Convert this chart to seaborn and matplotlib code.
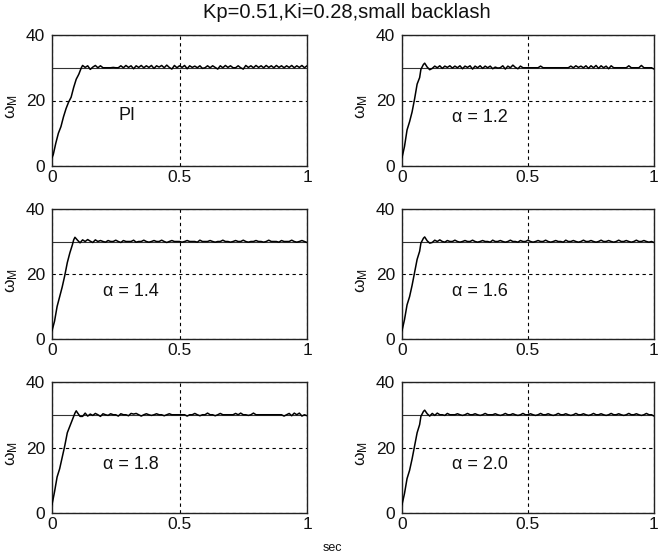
import numpy as np
import pandas as pd
import matplotlib
matplotlib.use("Agg")
import matplotlib.pyplot as plt
import seaborn as sns

# ---------------- data ----------------
title = "Kp=0.51,Ki=0.28,small backlash"
labels = ["PI", "α = 1.2", "α = 1.4", "α = 1.6", "α = 1.8", "α = 2.0"]
reference = 30
x_ticks = [0, 0.5, 1]
x_tick_labels = ["0", "0.5", "1"]
y_ticks = [0, 20, 40]
y_tick_labels = ["0", "20", "40"]

# rise portion (time, speed)
pi_rise_t = [0, 0.005, 0.015, 0.025, 0.035, 0.045, 0.055, 0.065, 0.075, 0.085, 0.095, 0.105, 0.115]
pi_rise_y = [2.5, 3.5, 7.0, 10.0, 12.0, 15.0, 17.5, 19.5, 21.0, 24.0, 26.5, 28.0, 30.0]

a12_rise_t = [0, 0.01, 0.02, 0.03, 0.04, 0.05, 0.06, 0.07, 0.075, 0.085, 0.09, 0.1, 0.11]
a12_rise_y = [2.5, 6.0, 11.0, 13.5, 16.5, 20.5, 25.0, 27.0, 29.5, 31.0, 31.4, 30.2, 29.4]
a14_rise_t = [0, 0.01, 0.02, 0.03, 0.04, 0.05, 0.06, 0.07, 0.08, 0.085, 0.09, 0.1, 0.11]
a14_rise_y = [2.5, 5.5, 10.0, 13.0, 16.0, 19.5, 23.5, 26.5, 29.0, 30.5, 31.3, 30.4, 29.6]
a16_rise_t = [0, 0.01, 0.02, 0.03, 0.04, 0.05, 0.06, 0.07, 0.075, 0.085, 0.09, 0.1, 0.11]
a16_rise_y = [2.5, 6.0, 10.5, 13.0, 16.5, 20.5, 24.5, 27.0, 29.5, 31.0, 31.4, 30.2, 29.5]
a18_rise_t = [0, 0.01, 0.02, 0.03, 0.04, 0.05, 0.06, 0.07, 0.08, 0.09, 0.095, 0.1, 0.11]
a18_rise_y = [2.5, 6.5, 11.0, 13.5, 17.0, 20.5, 24.5, 26.5, 28.5, 30.5, 31.2, 30.6, 29.5]
a20_rise_t = [0, 0.01, 0.02, 0.03, 0.04, 0.05, 0.06, 0.07, 0.075, 0.085, 0.09, 0.1, 0.11]
a20_rise_y = [2.5, 6.0, 10.5, 13.0, 16.5, 20.5, 24.5, 27.0, 29.5, 31.0, 31.4, 30.3, 29.6]

# steady portion (from t=0.12 to t=1.0)
pi_steady = [30.7, 30.1, 30.6, 29.5, 30.2, 30.7, 30.0, 30.6, 30.0, 30.0,
             30.0, 30.0, 30.1, 30.0, 30.0, 30.6, 30.0, 30.7, 30.1, 30.6,
             29.7, 30.6, 30.1, 30.7, 30.0, 30.6, 30.1, 30.7, 29.8, 30.6,
             30.2, 30.7, 30.0, 30.8, 30.1, 29.6, 30.7, 30.0, 30.6, 30.1,
             30.7, 29.7, 30.6, 30.1, 30.5, 30.0, 30.6, 29.8, 30.0, 30.6,
             30.0, 30.6, 30.1, 29.6, 30.6, 30.0, 30.7, 30.1, 30.6, 30.0,
             30.0, 30.6, 30.0, 29.6, 30.7, 30.1, 30.6, 30.0, 30.7, 30.1,
             30.6, 30.0, 30.7, 30.1, 30.6, 30.0, 30.7, 30.1, 30.6, 30.0,
             30.6, 30.1, 30.7, 30.0, 30.6, 30.1, 30.7, 30.0, 30.6]
a12_steady = [29.8, 30.5, 30.0, 30.6, 29.8, 30.5, 30.1, 30.6, 29.9, 30.5,
              30.0, 30.6, 29.7, 30.5, 30.1, 30.6, 29.6, 30.5, 30.0, 30.6,
              29.8, 30.5, 30.0, 30.5, 29.7, 30.2, 29.9, 30.0, 30.6, 29.6,
              30.5, 30.0, 30.8, 30.1, 29.7, 30.5, 30.0, 30.0, 30.0, 30.0,
              30.0, 30.0, 30.0, 30.5, 30.0, 30.0, 30.0, 30.0, 30.0, 30.0,
              30.0, 30.0, 30.0, 30.0, 30.0, 30.5, 30.0, 30.6, 30.1, 30.5,
              30.0, 30.6, 29.8, 30.6, 30.0, 30.7, 29.8, 30.6, 30.0, 30.5,
              29.7, 30.6, 30.0, 30.0, 30.0, 30.0, 30.0, 30.0, 30.6, 30.0,
              30.0, 30.0, 30.0, 30.7, 30.0, 30.0, 30.0, 30.0, 29.6]
a14_steady = [30.5, 30.0, 30.6, 30.1, 29.7, 30.5, 30.0, 30.3, 30.0, 29.8,
              30.3, 30.0, 30.0, 30.4, 30.0, 29.7, 30.3, 30.0, 30.0, 30.0,
              30.4, 29.8, 30.0, 30.0, 30.4, 30.0, 29.8, 30.0, 30.3, 30.0,
              30.0, 30.4, 30.0, 29.7, 30.0, 30.3, 30.0, 30.0, 30.0, 29.8,
              30.0, 30.3, 30.0, 30.0, 30.0, 29.8, 30.4, 30.0, 30.0, 30.0,
              30.3, 30.0, 29.8, 30.0, 30.0, 30.4, 30.0, 30.0, 29.8, 30.0,
              30.3, 30.0, 30.0, 30.4, 30.0, 29.8, 30.0, 30.0, 30.3, 30.0,
              30.0, 29.8, 30.0, 30.4, 30.0, 30.0, 30.0, 29.8, 30.3, 30.0,
              30.0, 30.0, 30.4, 30.0, 29.8, 30.0, 30.3, 30.0, 29.7]
a16_steady = [29.7, 30.4, 30.0, 30.5, 30.0, 29.8, 30.3, 30.0, 30.0, 30.4,
              30.0, 29.8, 30.0, 30.3, 30.0, 30.0, 30.4, 30.0, 29.8, 30.0,
              30.3, 30.0, 30.0, 29.8, 30.4, 30.0, 30.0, 30.3, 30.0, 29.8,
              30.0, 30.4, 30.0, 30.0, 29.8, 30.3, 30.0, 30.0, 30.4, 30.0,
              29.8, 30.0, 30.3, 30.0, 30.0, 30.4, 30.0, 29.8, 30.0, 30.3,
              30.0, 30.0, 29.8, 30.4, 30.0, 30.0, 30.3, 30.0, 29.8, 30.0,
              30.4, 30.0, 30.0, 30.3, 30.0, 29.8, 30.0, 30.4, 30.0, 30.0,
              30.3, 30.0, 29.8, 30.0, 30.4, 30.0, 30.0, 30.3, 30.0, 29.8,
              30.0, 30.4, 30.0, 30.0, 30.3, 30.0, 29.8, 30.0, 29.7]
a18_steady = [29.5, 30.5, 29.6, 30.2, 29.8, 30.4, 30.0, 29.5, 30.3, 30.0,
              29.8, 30.3, 30.0, 30.0, 29.6, 30.3, 30.0, 30.0, 29.7, 30.4,
              30.2, 30.4, 30.0, 29.6, 30.0, 30.3, 30.0, 29.8, 30.0, 30.3,
              30.0, 30.0, 29.7, 30.0, 30.3, 30.0, 30.0, 30.0, 30.0, 30.0,
              30.0, 29.6, 30.0, 30.0, 30.4, 30.0, 29.7, 30.0, 30.0, 30.5,
              30.0, 30.0, 29.7, 30.0, 30.4, 30.0, 30.0, 30.0, 30.0, 30.0,
              30.4, 30.0, 30.5, 30.0, 30.0, 29.8, 30.0, 30.5, 30.0, 30.0,
              30.0, 30.0, 30.0, 30.0, 30.0, 30.0, 30.0, 30.0, 30.0, 29.6,
              30.0, 30.4, 29.7, 30.5, 30.0, 30.5, 29.6, 30.0, 29.7]
a20_steady = [30.4, 29.8, 30.5, 30.0, 30.0, 29.8, 30.4, 30.0, 30.0, 30.0,
              30.3, 30.0, 29.8, 30.0, 30.4, 30.0, 30.0, 30.3, 30.0, 29.8,
              30.0, 30.4, 30.0, 30.0, 30.0, 30.3, 30.0, 29.8, 30.0, 30.4,
              30.0, 30.0, 30.3, 30.0, 29.8, 30.0, 30.4, 30.0, 30.0, 30.3,
              30.0, 29.8, 30.0, 30.4, 30.0, 30.0, 30.3, 30.0, 29.8, 30.0,
              30.4, 30.0, 30.0, 30.3, 30.0, 29.8, 30.0, 30.4, 30.0, 30.0,
              30.3, 30.0, 29.8, 30.0, 30.4, 30.0, 30.0, 30.3, 30.0, 29.8,
              30.0, 30.4, 30.0, 30.0, 30.3, 30.0, 29.8, 30.0, 30.4, 30.0,
              30.0, 30.3, 30.0, 29.8, 30.0, 30.4, 30.0, 30.0, 29.6]

rises = [(pi_rise_t, pi_rise_y), (a12_rise_t, a12_rise_y), (a14_rise_t, a14_rise_y),
         (a16_rise_t, a16_rise_y), (a18_rise_t, a18_rise_y), (a20_rise_t, a20_rise_y)]
steadies = [pi_steady, a12_steady, a14_steady, a16_steady, a18_steady, a20_steady]

# ---------------- style ----------------
sns.set_theme(style="white")
plt.rcParams['font.family'] = ['Liberation Sans', 'DejaVu Sans']
plt.rcParams['mathtext.fontset'] = 'custom'
plt.rcParams['mathtext.rm'] = 'Liberation Sans'

W, H = 659, 558
fig = plt.figure(figsize=(W / 100, H / 100), dpi=100)
fig.patch.set_facecolor('white')

col_px = [(52, 307), (402, 654)]
row_px = [(35, 166), (209, 339), (382, 513)]

for i in range(6):
    r, c = divmod(i, 2)
    x0, x1 = col_px[c]
    y0, y1 = row_px[r]
    ax = fig.add_axes([x0 / W, 1 - y1 / H, (x1 - x0) / W, (y1 - y0) / H])
    ax.set_facecolor('white')

    rt, ry = rises[i]
    st = np.linspace(0.12, 1.0, len(steadies[i]))
    t = np.concatenate([rt, st])
    y = np.concatenate([ry, steadies[i]])
    df = pd.DataFrame({"t": t, "w": y})

    # reference line
    ax.axhline(reference, color='#333333', lw=0.8, zorder=2)
    sns.lineplot(data=df, x="t", y="w", ax=ax, color='black', lw=1.1,
                 estimator=None, sort=False, zorder=3)

    ax.set_xlim(0, 1)
    ax.set_ylim(0, 40)
    ax.set_xticks(x_ticks)
    ax.set_xticklabels(x_tick_labels)
    ax.set_yticks(y_ticks)
    ax.set_yticklabels(y_tick_labels)
    ax.tick_params(direction='in', length=3, width=0.8, color='black',
                   labelsize=12.5, labelcolor='#111111')
    ax.tick_params(axis='x', pad=3)
    ax.tick_params(axis='y', pad=5)
    ax.grid(True, color='black', linestyle=(0, (3, 3)), linewidth=0.8)
    for sp in ax.spines.values():
        sp.set_visible(True)
        sp.set_color('#222222')
        sp.set_linewidth(1.0)
    ax.set_xlabel("")
    ax.set_ylabel(r"$\mathregular{\omega_M}$", fontsize=12.5, color='#111111')
    ax.yaxis.set_label_coords(-0.125, 0.45)

    if i == 0:
        ax.text(0.26, 15.5, labels[i], fontsize=13, ha='left', va='center', color='#111111')
    else:
        ax.text(0.2, 14.7, labels[i], fontsize=13, ha='left', va='center', color='#111111')

fig.text(347 / W, 1 - 12 / H, title, ha='center', va='center', fontsize=14.5, color='#111111')
fig.text(332 / W, 1 - 548 / H, "sec", ha='center', va='center', fontsize=9, color='#111111')

fig.savefig("out.png", dpi=100, facecolor='white')
